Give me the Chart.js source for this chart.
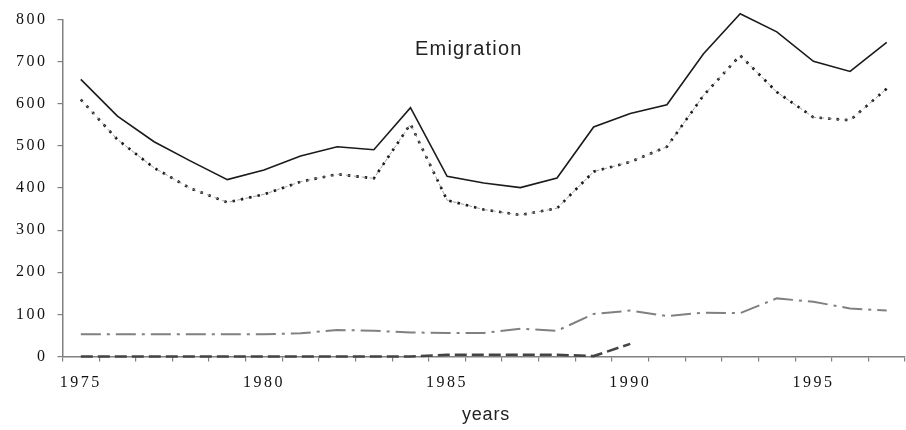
<!DOCTYPE html>
<html><head><meta charset="utf-8">
<script src="https://cdn.jsdelivr.net/npm/chart.js@4.4.0/dist/chart.umd.min.js"></script>
<style>html,body{margin:0;padding:0;background:#fff;}</style>
</head><body>
<canvas id="c" width="906" height="430"></canvas>
<script>
const years = [1975,1976,1977,1978,1979,1980,1981,1982,1983,1984,1985,1986,1987,1988,1989,1990,1991,1992,1993,1994,1995,1996,1997];
const totalSeries = [658,571,510,464,420,443,476,498,491,591,428,412,401,424,545,577,598,719,814,771,701,677,746];
const dottedSeries = [610,515,448,399,366,385,415,433,423,552,371,349,336,352,439,462,498,620,715,628,568,561,636];
const dashDotSeries = [53,53,53,53,53,53,55,63,61,57,56,56,66,61,101,109,96,104,103,138,130,114,109];
const dashedSeries = [0,0,0,0,0,0,0,0,0,0,4,4,4,4,1,30,null,null,null,null,null,null,null];
const yTicks = [0,100,200,300,400,500,600,700,800];
const titleText = 'Emigration';
const xTitleText = 'years';

const textPlugin = {
  id: 'texts',
  beforeDraw(chart) { chart.ctx.letterSpacing = '2.5px'; },
  afterDraw(chart) {
    const ctx = chart.ctx;
    ctx.save();
    ctx.fillStyle = '#222';
    ctx.textAlign = 'left';
    ctx.textBaseline = 'alphabetic';
    ctx.letterSpacing = '1.2px';
    ctx.font = '20px "Liberation Sans", Arial, sans-serif';
    ctx.fillText(titleText, 415, 55);
    ctx.font = '18px "Liberation Sans", Arial, sans-serif';
    ctx.letterSpacing = '0.8px';
    ctx.fillText(xTitleText, 462, 420);
    ctx.restore();
  }
};

new Chart(document.getElementById('c'), {
  type: 'line',
  data: {
    labels: years.map(String),
    datasets: [
      { data: totalSeries, borderColor: '#1a1a1a', borderWidth: 1.6, pointRadius: 0, tension: 0, clip: false },
      { data: dottedSeries, borderColor: '#888', borderWidth: 0.8, borderDash: [4,4], pointRadius: 0, tension: 0, clip: false },
      { data: dottedSeries, borderColor: '#1a1a1a', borderWidth: 2.6, borderDash: [2.5,6], pointRadius: 0, tension: 0, clip: false },
      { data: dashDotSeries, borderColor: '#808080', borderWidth: 2, borderDash: [20,6,3,6], pointRadius: 0, tension: 0, clip: false },
      { data: dashedSeries, borderColor: '#444', borderWidth: 2.6, borderDash: [12,5], pointRadius: 0, tension: 0, clip: false, spanGaps: false }
    ]
  },
  options: {
    responsive: false,
    animation: false,
    devicePixelRatio: 1,
    layout: { padding: { top: 19, right: 1, left: 0, bottom: 0 } },
    plugins: { legend: { display: false }, tooltip: { enabled: false }, title: { display: false } },
    scales: {
      x: {
        type: 'category',
        offset: true,
        afterFit(s) { s.height = 73.5; },
        grid: { offset: true, drawOnChartArea: false, drawTicks: true, tickLength: 5, color: '#808080', lineWidth: 1.2 },
        border: { display: true, color: '#808080', width: 1.5 },
        ticks: {
          autoSkip: false, maxRotation: 0, padding: 12, color: '#111',
          font: { family: '"Liberation Serif", "Times New Roman", serif', size: 16 },
          callback(v, i) { const y = years[i]; return (y % 5 === 0) ? String(y) : ''; }
        }
      },
      y: {
        min: 0, max: 800,
        afterFit(s) { s.width = 62.5; },
        afterBuildTicks(s) { s.ticks = yTicks.map(v => ({ value: v })); },
        grid: { drawOnChartArea: false, drawTicks: true, tickLength: 5, color: '#808080', lineWidth: 1.2 },
        border: { display: true, color: '#808080', width: 1.5 },
        ticks: {
          padding: 10, color: '#111',
          font: { family: '"Liberation Serif", "Times New Roman", serif', size: 16 }
        }
      }
    }
  },
  plugins: [textPlugin]
});
</script>
</body></html>
